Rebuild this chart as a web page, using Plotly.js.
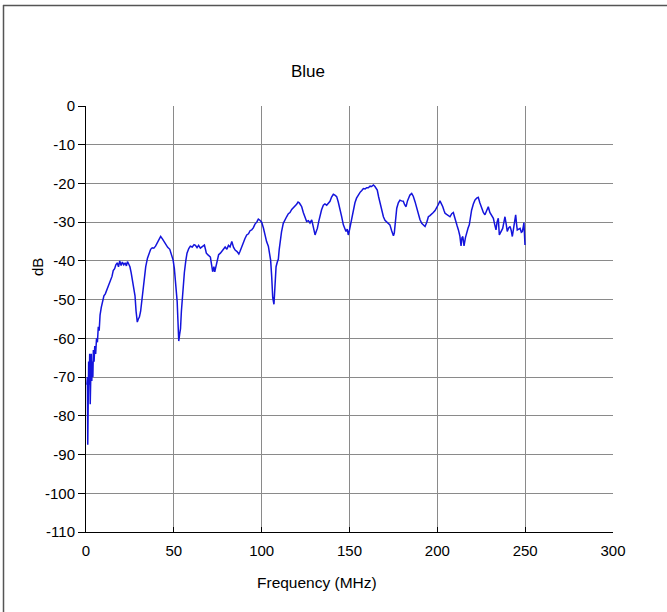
<!DOCTYPE html>
<html>
<head>
<meta charset="utf-8">
<script src="https://cdn.plot.ly/plotly-3.0.1.min.js"></script>
<style>
html,body{margin:0;padding:0;background:#fff;}
#chart{width:667px;height:612px;}
</style>
</head>
<body>
<div id="chart"></div>
<script>
const freqMHz = [0.5,0.8,1.0,1.2,1.5,1.8,2.1,2.4,2.7,3.0,3.3,3.6,3.9,4.2,4.6,5.0,5.5,6.0,6.5,7.0,7.5,8.0,8.7,9.5,10.2,11.0,11.8,12.5,13.2,14.0,14.8,15.5,16.3,17.0,17.8,18.5,19.2,20.0,20.7,21.5,22.3,23.0,23.6,24.3,25.0,25.7,26.4,27.2,27.9,28.5,29.2,29.8,30.4,31.1,31.7,32.3,33.0,34.0,35.0,35.8,36.8,37.7,38.6,39.6,40.5,41.5,42.5,43.5,44.4,45.3,46.5,47.7,48.7,49.6,50.3,50.9,51.5,51.9,52.3,52.8,53.3,53.8,54.3,54.7,55.3,56.0,56.8,57.5,58.5,59.4,60.5,61.5,62.3,63.2,64.1,65.1,66.2,67.4,68.0,68.5,69.6,70.8,71.5,72.1,72.8,73.3,73.8,74.5,75.5,76.5,77.4,78.3,79.2,80.2,81.1,82.0,83.0,84.0,84.9,86.0,87.0,87.7,88.6,89.6,90.5,91.5,92.5,93.4,94.3,95.3,96.2,97.2,98.1,99.0,100.0,101.0,101.9,102.8,103.8,104.5,105.1,105.7,106.3,107.0,107.6,108.2,108.9,109.5,110.0,110.4,111.3,112.3,113.2,114.2,115.2,116.1,117.1,118.0,119.0,119.9,120.7,121.4,122.1,122.8,123.7,124.7,125.6,126.6,127.5,128.5,129.4,130.4,131.0,131.7,132.5,133.2,134.1,135.1,136.0,137.0,138.0,138.9,139.8,140.8,141.7,142.7,143.6,144.6,145.5,146.5,147.3,148.0,148.7,149.3,150.0,150.7,151.5,152.2,153.1,154.0,155.0,156.0,157.0,157.9,158.9,159.8,160.7,161.7,162.6,163.6,164.5,165.3,165.8,166.6,167.4,168.4,169.3,170.2,171.2,172.0,173.0,174.0,175.0,175.5,175.9,176.4,176.9,177.8,178.7,179.6,180.6,181.4,182.2,183.0,183.5,184.4,185.4,186.3,187.3,188.2,189.2,190.1,191.1,192.0,193.0,194.0,194.9,195.8,196.8,197.7,198.7,199.6,200.5,201.5,202.3,203.1,203.8,204.4,205.3,206.3,207.2,208.2,209.1,209.9,210.6,211.3,212.0,212.8,213.5,214.0,214.5,215.2,216.0,216.7,217.5,218.2,218.9,219.5,220.5,221.4,222.4,223.3,224.2,225.2,226.2,227.1,228.0,229.0,229.9,230.9,231.9,232.6,233.4,234.0,234.7,235.3,236.2,237.2,237.9,238.5,239.2,239.8,240.6,241.4,242.0,242.7,243.6,244.6,245.1,245.5,246.3,247.1,247.8,248.4,249.0,249.3,249.6,249.9];
const levelDB = [-72,-70,-87.5,-74,-66,-72,-64,-77,-68,-64,-71,-66,-70,-63,-66,-62,-64,-60,-61,-57,-58,-54,-52,-50.5,-49,-48.5,-47.5,-46.5,-46,-45,-44,-42.5,-42,-41,-40.5,-41.5,-40,-41.2,-40.3,-41,-40.5,-41.3,-40.2,-40.8,-41.5,-43,-45,-47,-49,-53,-55.8,-55,-54.5,-53,-50.5,-47.5,-45,-41.5,-39.3,-38,-37,-36.6,-36.7,-36.2,-35.5,-34.5,-33.7,-34.3,-35,-35.5,-36.5,-37,-38.3,-39.8,-42,-45,-48,-50.5,-55,-60.7,-59,-57.5,-53,-50.3,-46.5,-43,-40,-38,-36.8,-36.2,-36.4,-35.8,-36,-36.6,-36,-36.7,-36.3,-35.9,-37,-38,-38.5,-39,-41,-42.8,-41.5,-42.8,-41.8,-40.5,-38.4,-38,-37.4,-36.8,-36.4,-37,-36,-36.4,-35,-36.5,-37.2,-37.6,-38.2,-37.5,-36.3,-35.2,-34.2,-33.3,-33,-32.2,-32,-31.4,-30.5,-30,-29.2,-29.5,-30,-31.5,-33.5,-35,-36.2,-38,-39.8,-44,-49.5,-51.2,-47,-41.5,-40.3,-39.5,-37,-35,-32.5,-30.3,-29.3,-28.6,-27.8,-27.5,-26.7,-26.3,-25.8,-25.4,-24.8,-25,-25.5,-26,-27.5,-29,-29.8,-29.6,-30.2,-29.4,-31,-33.3,-32.5,-31.6,-29.8,-28.1,-26.8,-25.6,-25.3,-25.6,-25.1,-24.6,-23.5,-22.8,-23,-23.4,-24.8,-26.4,-28.5,-30.7,-31.5,-32.4,-31.8,-33.3,-32,-30.3,-28.3,-26.4,-25,-23.8,-23,-22.3,-21.8,-21.3,-21.4,-21.1,-21.1,-20.7,-20.8,-20.4,-20.8,-21.6,-21.7,-23.5,-25.1,-27,-28.6,-29.5,-29.9,-30.4,-30.7,-32.2,-33.5,-32.8,-31.1,-28.5,-26.4,-25,-24.3,-24.5,-24.6,-25.5,-26,-24.5,-23.9,-23,-22.6,-23.3,-24.7,-26.3,-28.1,-29.3,-30.3,-30.8,-31.1,-30,-28.6,-28.3,-28,-27.5,-27,-26.4,-25.5,-24.5,-25.2,-26,-27,-27.7,-28,-28.3,-28.6,-27.8,-27.5,-28.8,-30.3,-31,-32,-33.5,-36.1,-34,-33.7,-36.1,-34,-32.4,-31.5,-30.7,-28.5,-26.9,-25.3,-24.3,-23.8,-23.6,-25,-26.4,-27.5,-28.1,-27,-26,-27.5,-28.1,-29,-30.5,-32,-30,-29,-33.3,-32.5,-31.6,-30,-28.6,-30.5,-32.4,-31.5,-31.1,-32,-33.7,-31,-28.1,-30.5,-32,-31.8,-31.6,-32.6,-32.4,-31,-30.1,-33,-35.9];
const xTickVals = [0,50,100,150,200,250,300];
const yTickVals = [0,-10,-20,-30,-40,-50,-60,-70,-80,-90,-100,-110];
const titleText = "Blue";
const xTitle = "Frequency (MHz)";
const yTitle = "dB";

const font = "Liberation Sans, Arial, sans-serif";
const W = 667, H = 612, L = 86, R = 54, T = 106, B = 80;
const pw = W - L - R, ph = H - T - B;
const px2x = p => (p - L) / pw;
const py2y = p => (H - B - p) / ph;

const trace = {
  x: freqMHz, y: levelDB, type: "scatter", mode: "lines",
  line: {color: "#1414dc", width: 1.5}, hoverinfo: "skip", showlegend: false
};

const layout = {
  width: W, height: H,
  margin: {l: L, r: R, t: T, b: B, pad: 0},
  paper_bgcolor: "#fff", plot_bgcolor: "#fff",
  font: {family: font, size: 15, color: "#000"},
  showlegend: false,
  xaxis: {
    range: [0, 300], tickvals: xTickVals, ticktext: xTickVals.map(String),
    showgrid: true, gridcolor: "#8a8a8a", gridwidth: 1,
    showline: true, linecolor: "#000", linewidth: 1,
    ticks: "inside", ticklen: 5, tickcolor: "#000",
    ticklabelstandoff: 5,
    zeroline: false, fixedrange: true,
    tickfont: {family: font, size: 15, color: "#000"}
  },
  yaxis: {
    range: [-110, 0], tickvals: yTickVals, ticktext: yTickVals.map(String),
    showgrid: true, gridcolor: "#8a8a8a", gridwidth: 1,
    showline: true, linecolor: "#000", linewidth: 1,
    ticks: "outside", ticklen: 7, tickcolor: "#000",
    zeroline: false, fixedrange: true,
    tickfont: {family: font, size: 15, color: "#000"}
  },
  annotations: [
    {text: titleText, xref: "paper", yref: "paper", x: px2x(308), y: py2y(72),
     xanchor: "center", yanchor: "middle", showarrow: false,
     font: {family: font, size: 17, color: "#000"}},
    {text: xTitle, xref: "paper", yref: "paper", x: px2x(317), y: py2y(582),
     xanchor: "center", yanchor: "middle", showarrow: false,
     font: {family: font, size: 15.5, color: "#000"}},
    {text: yTitle, xref: "paper", yref: "paper", x: px2x(37), y: py2y(267),
     xanchor: "center", yanchor: "middle", showarrow: false, textangle: -90,
     font: {family: font, size: 15, color: "#000"}}
  ],
  shapes: [
    {type: "line", xref: "paper", yref: "paper", x0: px2x(3), x1: px2x(667), y0: py2y(5.5), y1: py2y(5.5),
     line: {color: "#555", width: 1.5}},
    {type: "line", xref: "paper", yref: "paper", x0: px2x(3.5), x1: px2x(3.5), y0: py2y(5), y1: py2y(612),
     line: {color: "#555", width: 1.5}}
  ]
};

Plotly.newPlot("chart", [trace], layout, {displayModeBar: false, staticPlot: true});
</script>
</body>
</html>
